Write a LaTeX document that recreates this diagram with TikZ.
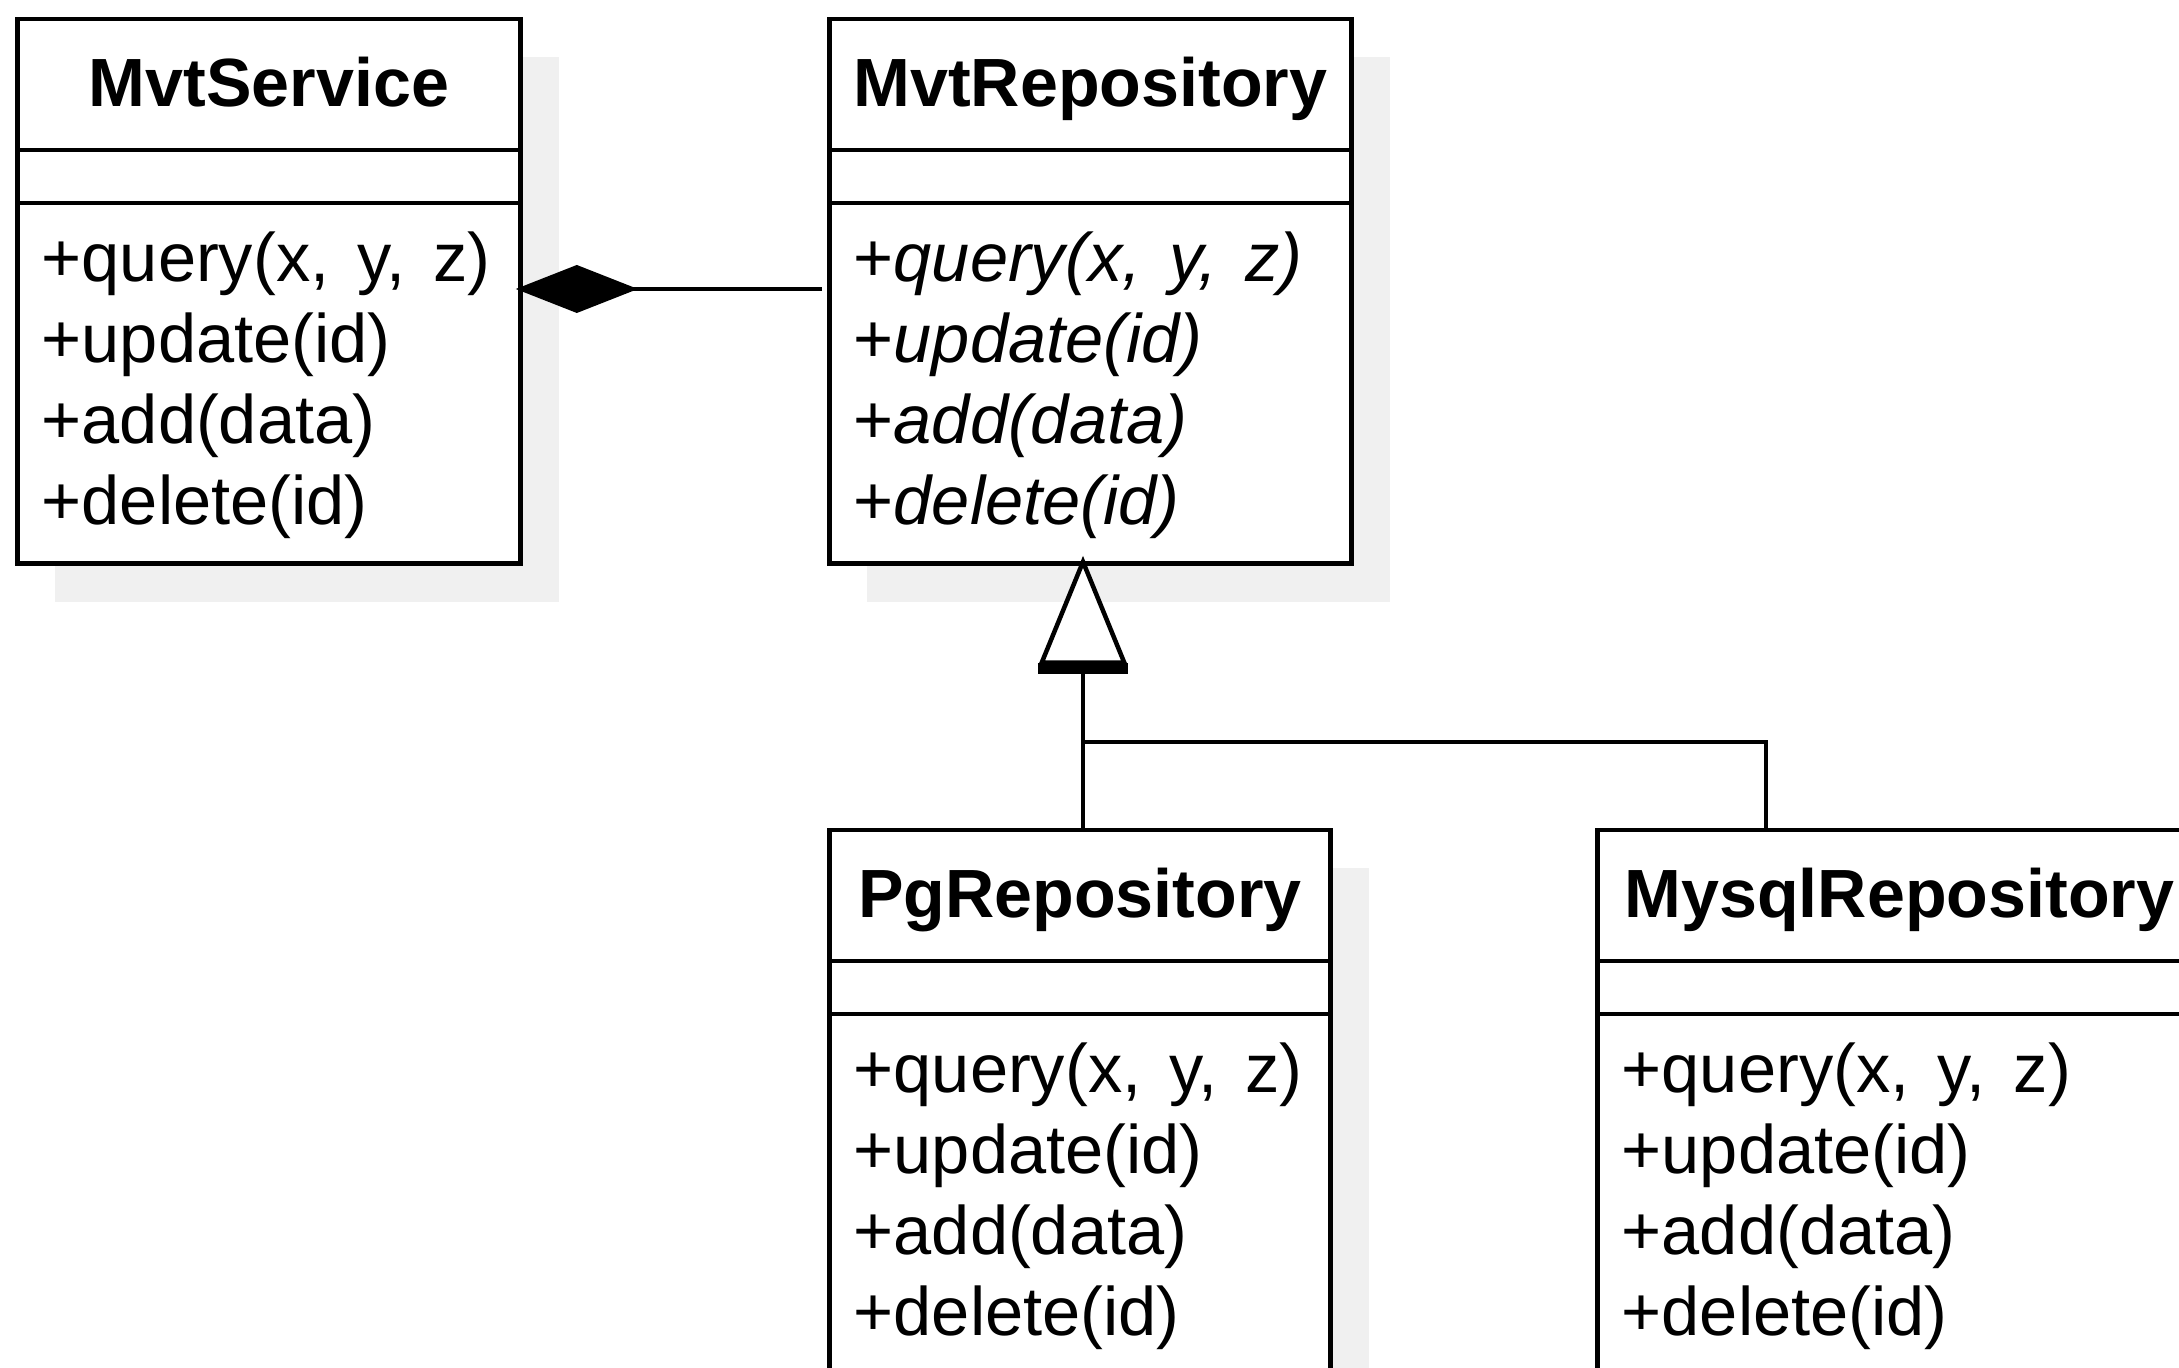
\documentclass[tikz,border=0pt]{standalone}
\usepackage{fontspec}
\setmainfont{Liberation Sans}
\usetikzlibrary{arrows.meta,shadows,calc}

\tikzset{
  umlline/.style={line width=0.045cm, draw=black},
  classbox/.style={umlline, rectangle, fill=white, anchor=north west, inner sep=0pt,
    minimum height=5.44cm,
    drop shadow={shadow xshift=0.38cm, shadow yshift=-0.38cm, fill=black!6, opacity=1}},
  classname/.style={inner sep=0pt, anchor=base, font=\fontsize{19.4}{23}\selectfont\bfseries},
  member/.style={inner sep=0pt, anchor=base west, font=\fontsize{19.5}{23}\selectfont},
}

% wide gap after a comma in a parameter list
\newcommand{\argsep}{,\hspace{0.28cm}}

% class box body: title, empty attribute compartment, method compartment
\newcommand{\classparts}[3]{%
  \node[classname] (#1-title) at ([yshift=-0.89cm]#1.north) {#2};
  \draw[umlline] ([yshift=-1.33cm]#1.north west) -- ([yshift=-1.33cm]#1.north east);
  \draw[umlline] ([yshift=-1.86cm]#1.north west) -- ([yshift=-1.86cm]#1.north east);
  \foreach \txt [count=\i] in {#3} {
    \node[member] (#1-m\i) at ([xshift=0.26cm,yshift={-2.64cm-0.81cm*(\i-1)}]#1.north west) {\txt};
  }%
}

\begin{document}
\begin{tikzpicture}[x=0.01cm, y=-0.01cm]
  \useasboundingbox (0,0) rectangle (2179,1368);
  \clip (0,0) rectangle (2179,1368);

  % classes
  \node[classbox, minimum width=5.03cm] (svc) at (15,17) {};
  \node[classbox, minimum width=5.22cm] (repo) at (827,17) {};
  \node[classbox, minimum width=5.01cm, minimum height=6cm] (pg) at (827,828) {};
  \node[classbox, minimum width=6.04cm, minimum height=6cm] (mysql) at (1595,828) {};

  \classparts{svc}{MvtService}{+query(x\argsep y\argsep z), +update(id), +add(data), +delete(id)}
  \classparts{repo}{MvtRepository}{+\textit{query(x\argsep y\argsep z)}, +\textit{update(id)}, +\textit{add(data)}, +\textit{delete(id)}}
  \classparts{pg}{PgRepository}{+query(x\argsep y\argsep z), +update(id), +add(data), +delete(id)}
  \classparts{mysql}{MysqlRepository}{+query(x\argsep y\argsep z), +update(id), +add(data), +delete(id)}

  % composition: MvtService owns a MvtRepository
  \coordinate (comp) at (0,289);
  \draw[umlline, -{Diamond[length=1.22cm, width=0.48cm, fill=black]}]
    ([xshift=-0.05cm]repo.west |- comp) -- ([xshift=-0.07cm]svc.east |- comp);

  % generalization: both repositories realize MvtRepository
  \coordinate (junc) at (1083,742);
  \coordinate (tipbase) at (1083,669);
  \draw[umlline, -{Triangle[open, length=1.09cm, width=0.88cm, fill=white]}]
    (junc |- pg.north) -- ([yshift=0.1cm]junc |- repo.south);
  \draw[line width=0.11cm] ([xshift=-0.45cm]tipbase) -- ([xshift=0.45cm]tipbase);
  \draw[umlline] (junc) -| ([xshift=1.71cm]mysql.north west);
\end{tikzpicture}
\end{document}
